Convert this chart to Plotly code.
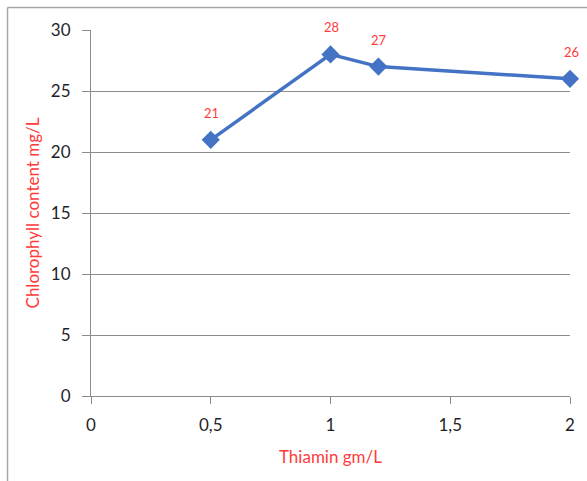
import plotly.graph_objects as go

# Thiamin dose (gm/L) vs chlorophyll content (mg/L)
thiamin = [0.5, 1.0, 1.2, 2.0]
chlorophyll = [21, 28, 27, 26]

x_tickvals = [0, 0.5, 1, 1.5, 2]
x_ticktext = ["0", "0,5", "1", "1,5", "2"]
y_tickvals = [0, 5, 10, 15, 20, 25, 30]

RED = "#ff3b3b"
BLUE = "#4472c4"
GRID = "#8c8c8c"
FONT = "Lato"

fig = go.Figure()
fig.add_trace(go.Scatter(
    x=thiamin,
    y=chlorophyll,
    mode="lines+markers",
    line=dict(color=BLUE, width=3.5),
    marker=dict(symbol="diamond", size=14, color=BLUE),
    cliponaxis=False,
    showlegend=False,
))

# Value labels floating above each point
for xv, yv in zip(thiamin, chlorophyll):
    fig.add_annotation(
        x=xv, y=yv, text=str(yv), showarrow=False,
        yshift=27, xshift=1,
        font=dict(family=FONT, size=13, color=RED),
    )

W, H = 587, 481
ML, MR, MT, MB = 91, 17, 30, 85
pw, ph = W - ML - MR, H - MT - MB

fig.update_layout(
    width=W,
    height=H,
    margin=dict(l=ML, r=MR, t=MT, b=MB),
    paper_bgcolor="white",
    plot_bgcolor="white",
    font=dict(family=FONT, color="#1f1f2a"),
    xaxis=dict(
        range=[0, 2],
        tickvals=x_tickvals,
        ticktext=x_ticktext,
        tickfont=dict(size=17),
        ticks="outside",
        ticklen=7,
        tickcolor=GRID,
        ticklabelstandoff=7,
        showline=True,
        linecolor=GRID,
        linewidth=1,
        showgrid=False,
        zeroline=False,
        title=dict(text="Thiamin gm/L", font=dict(size=17, color=RED), standoff=16),
    ),
    yaxis=dict(
        range=[0, 30],
        tickvals=y_tickvals,
        tickfont=dict(size=17),
        ticks="outside",
        ticklen=8,
        tickcolor=GRID,
        ticklabelstandoff=8,
        showline=True,
        linecolor=GRID,
        linewidth=1,
        showgrid=True,
        gridcolor=GRID,
        gridwidth=1,
        zeroline=False,
        title=dict(text="Chlorophyll content mg/L", font=dict(size=17, color=RED), standoff=6),
    ),
)

# Chart frame: left and top edges of the outer border
left = (7.5 - ML) / pw
top = 1 + (MT - 7.5) / ph
bottom = -(H - MT - ph) / ph - 0.01
right = 1 + (MR + 2) / pw
fig.add_shape(type="line", xref="paper", yref="paper", x0=left, x1=left, y0=bottom, y1=top,
              line=dict(color="#a6a6a6", width=1.5))
fig.add_shape(type="line", xref="paper", yref="paper", x0=left, x1=right, y0=top, y1=top,
              line=dict(color="#a6a6a6", width=1.5))

fig.write_html("out.html")
